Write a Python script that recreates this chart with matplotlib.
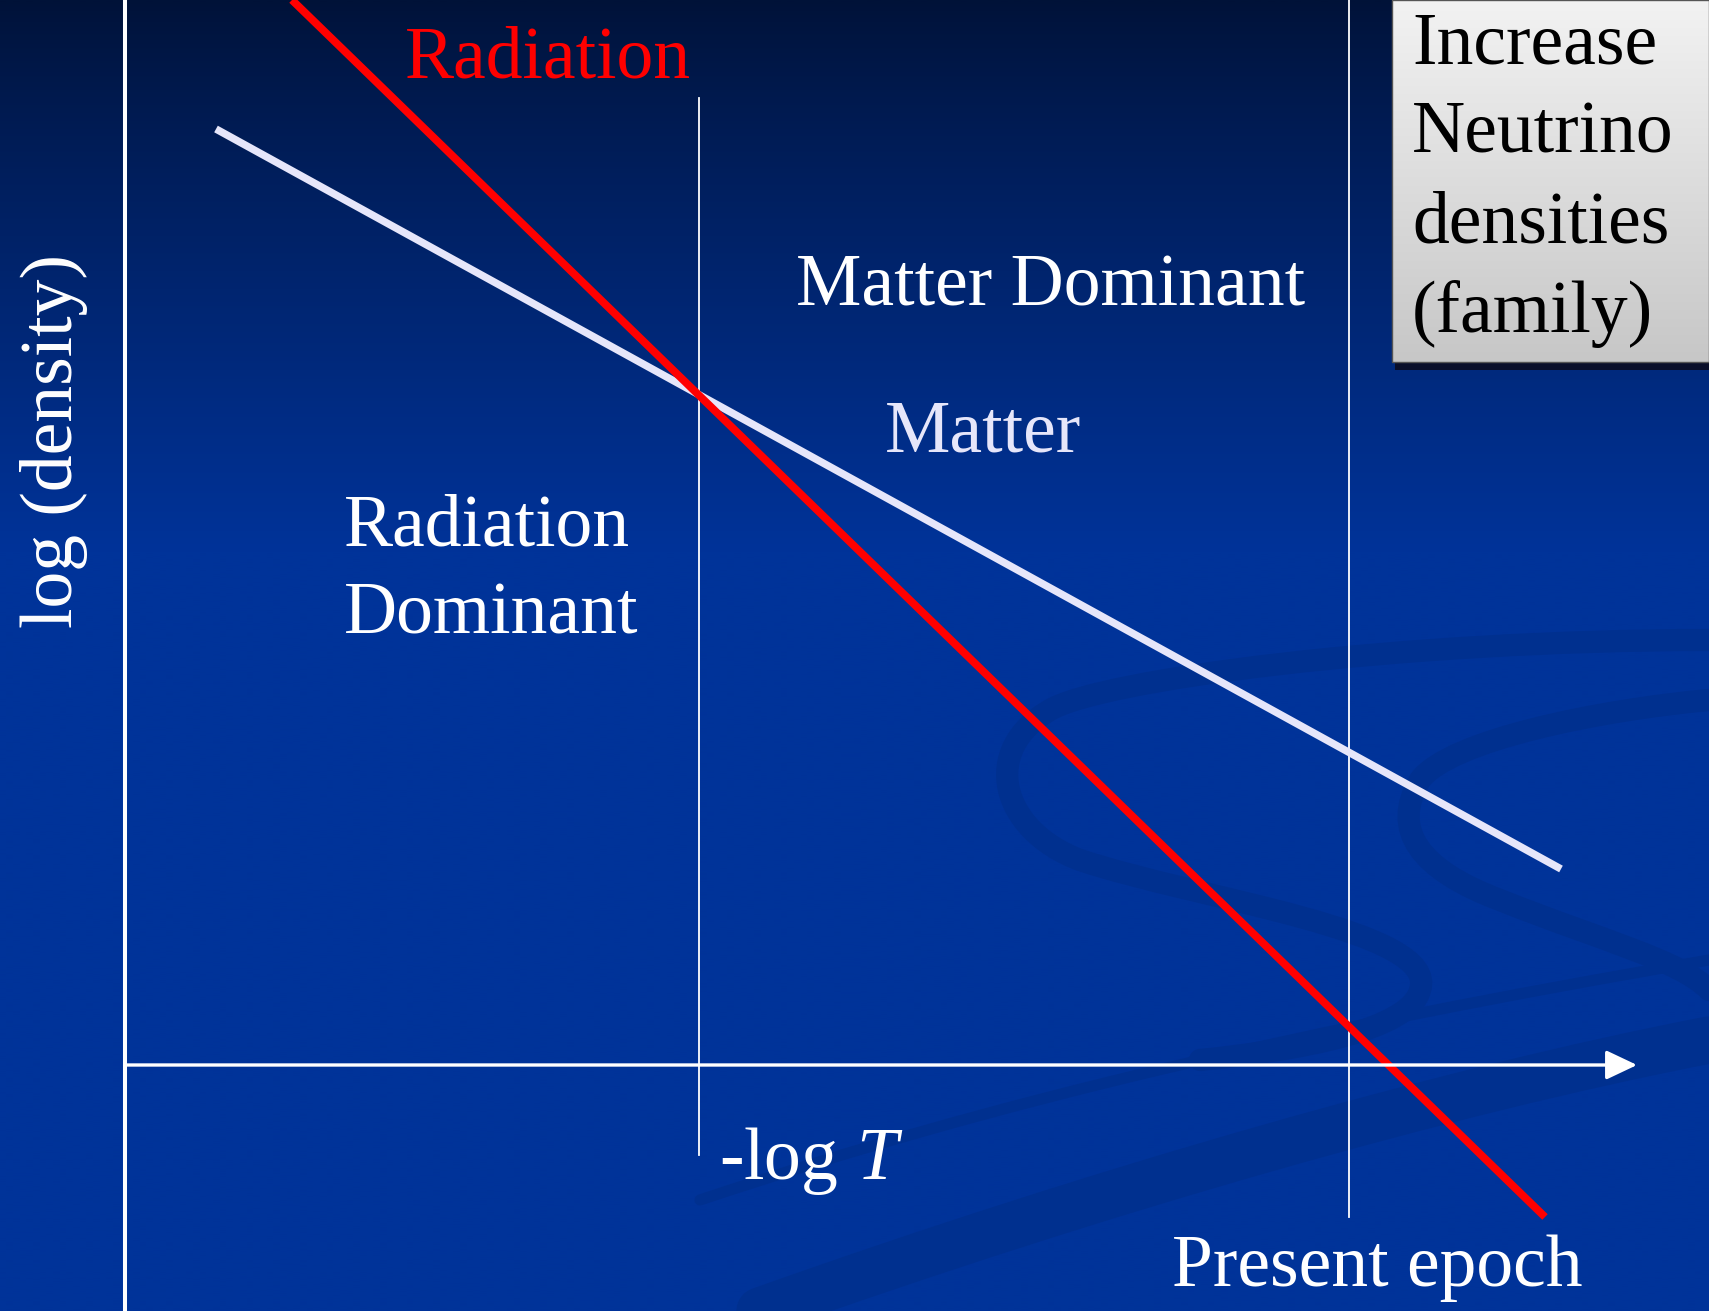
"""
Radiation vs matter density sketch: log(density) against -log T,
with the equality epoch and the present epoch marked.
"""
import numpy as np
import matplotlib
matplotlib.use('Agg')
import matplotlib.pyplot as plt
from matplotlib.path import Path
from matplotlib.patches import PathPatch, Rectangle

plt.rcParams['font.family'] = ['Liberation Serif', 'DejaVu Serif']
plt.rcParams['mathtext.fontset'] = 'custom'
plt.rcParams['mathtext.rm'] = 'Liberation Serif'
plt.rcParams['mathtext.it'] = 'Liberation Serif:italic'

# ---- data (x = -log T, y = log density, arbitrary units) ----
radiation_x = [1.67, 14.20]
radiation_y = [10.65, -1.52]
matter_x = [0.91, 14.36]
matter_y = [9.36, 1.96]
equality_x = 5.74
equality_span = [-0.90, 9.67]
present_x = 12.24
present_span = [-1.52, 10.65]
box_lines = ['Increase', 'Neutrino', 'densities', '(family)']

XLIM = (-1.25, 15.84)
YLIM = (-2.46, 10.65)
FS = 53
WHITE = 'white'
LAVENDER = '#E6E6FA'
RED = '#FF0000'

fig = plt.figure(figsize=(17.09, 13.11), dpi=100)

# background gradient + faint swirls (pixel coordinates)
bg = fig.add_axes([0, 0, 1, 1], zorder=0)
bg.set_xlim(0, 1709)
bg.set_ylim(1311, 0)
bg.axis('off')
t = np.linspace(0, 1, 400)
k = np.clip(t / 0.42, 0, 1) ** 0.85
top = np.array([0, 18, 56]) / 255
bot = np.array([0, 51, 153]) / 255
grad = (top[None, :] * (1 - k[:, None]) + bot[None, :] * k[:, None])[:, None, :]
bg.imshow(grad, extent=(0, 1709, 1311, 0), aspect='auto', interpolation='bilinear')

swirl = '#00308F'
C4 = Path.CURVE4
paths = [
    ([(1709, 640), (1400, 640), (1100, 680), (1050, 710),
      (980, 750), (1000, 830), (1080, 860),
      (1200, 900), (1440, 930), (1420, 990),
      (1410, 1030), (1300, 1050), (1200, 1060)], 16),
    ([(1709, 700), (1600, 710), (1450, 740), (1420, 780),
      (1390, 830), (1420, 870), (1500, 900),
      (1600, 940), (1680, 960), (1709, 990)], 16),
    ([(760, 1311), (1100, 1190), (1450, 1090), (1709, 1040)], 34),
    ([(700, 1200), (1000, 1100), (1300, 1030), (1709, 960)], 8),
]
for pts, lw in paths:
    codes = [Path.MOVETO] + [C4] * (len(pts) - 1)
    bg.add_patch(PathPatch(Path(pts, codes), fill=False, edgecolor=swirl,
                           lw=lw, capstyle='round'))

# main sketch
ax = fig.add_axes([0, 0, 1, 1], zorder=1)
ax.set_xlim(*XLIM)
ax.set_ylim(*YLIM)
ax.axis('off')
ax.patch.set_alpha(0)

# axes
ax.plot([0, 0], [YLIM[0], YLIM[1]], color=WHITE, lw=2.9)
ax.annotate('', xy=(15.12, 0), xytext=(0, 0),
            arrowprops=dict(arrowstyle='-|>,head_length=0.95,head_width=0.45',
                            mutation_scale=20, lw=2.4, color=WHITE,
                            shrinkA=0, shrinkB=0))

# epoch markers
ax.plot([equality_x, equality_x], equality_span, color=WHITE, lw=1.3)
ax.plot([present_x, present_x], present_span, color=WHITE, lw=1.3)

# density lines
ax.plot(matter_x, matter_y, color=LAVENDER, lw=5.4, solid_capstyle='butt')
ax.plot(radiation_x, radiation_y, color=RED, lw=5.6, solid_capstyle='butt')

# labels
ax.text(2.80, 9.87, 'Radiation', color=RED, fontsize=FS, va='baseline')
ax.text(6.71, 7.60, 'Matter Dominant', color=WHITE, fontsize=FS, va='baseline')
ax.text(7.60, 6.13, 'Matter', color=LAVENDER, fontsize=FS, va='baseline')
ax.text(2.19, 5.20, 'Radiation', color=WHITE, fontsize=FS, va='baseline')
ax.text(2.19, 4.31, 'Dominant', color=WHITE, fontsize=FS, va='baseline')
ax.text(5.94, -1.14, r'-log $T$', color=WHITE, fontsize=FS, va='baseline')
ax.text(10.47, -2.21, 'Present epoch', color=WHITE, fontsize=FS, va='baseline')
ax.text(-0.71, 6.24, 'log (density)', color=WHITE, fontsize=FS,
        rotation=90, ha='center', va='center')

# note box, top right
bx0, bx1, by0, by1 = 12.67, XLIM[1], 7.03, YLIM[1]
ax.add_patch(Rectangle((bx0 + 0.03, by0 - 0.08), bx1 - bx0, by1 - by0,
                       facecolor='#0A0F2A', edgecolor='none', zorder=3))
g = np.linspace(0.95, 0.78, 200)[:, None]
ax.imshow(np.dstack([g, g, g]), extent=(bx0, bx1, by0, by1), aspect='auto',
          zorder=4, interpolation='bilinear')
ax.add_patch(Rectangle((bx0, by0), bx1 - bx0, by1 - by0, facecolor='none',
                       edgecolor='#555555', lw=1.0, zorder=5))
ax.set_xlim(*XLIM)
ax.set_ylim(*YLIM)
for i, line in enumerate(box_lines):
    ax.text(12.87, 10.02 - 0.897 * i, line, color='black', fontsize=FS,
            va='baseline', zorder=6)

fig.savefig('out.png', dpi=100)
plt.close(fig)
